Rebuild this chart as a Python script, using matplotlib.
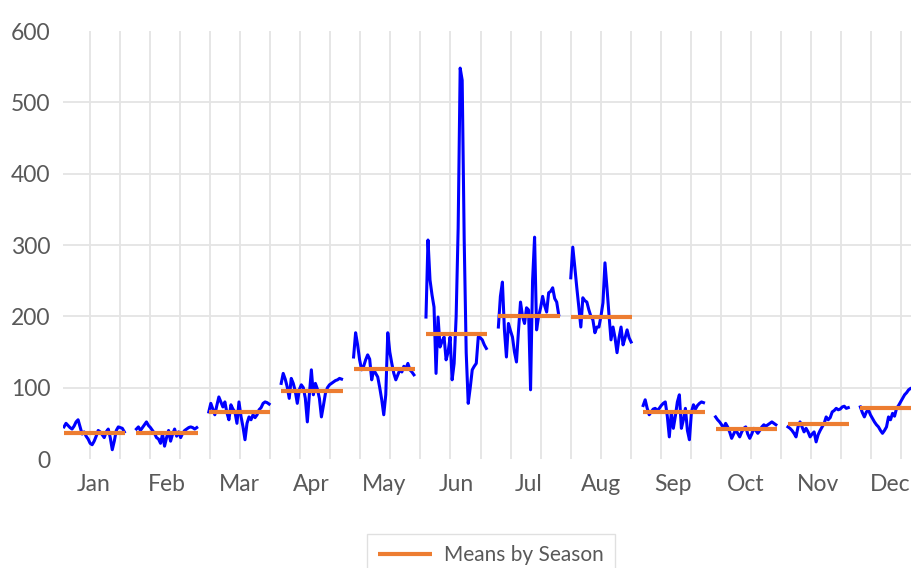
import numpy as np
import matplotlib
matplotlib.use("Agg")
import matplotlib.pyplot as plt

# ─────────────────────────────────────────────
# 数据（从图中读取的日值，每月 31 个点）
# ─────────────────────────────────────────────
months = ["Jan", "Feb", "Mar", "Apr", "May", "Jun",
          "Jul", "Aug", "Sep", "Oct", "Nov", "Dec"]

jan = [45, 50, 47, 44, 42, 46, 52, 55, 45, 35, 38, 32, 28, 22, 20, 25,
       32, 40, 38, 34, 30, 38, 42, 30, 13, 25, 40, 45, 44, 43, 38]
feb = [42, 45, 40, 44, 48, 52, 47, 44, 40, 36, 30, 28, 22, 35, 18, 30,
       40, 25, 35, 42, 32, 38, 30, 36, 40, 42, 44, 45, 44, 42, 44]
mar = [66, 78, 70, 62, 75, 87, 80, 73, 80, 65, 55, 76, 70, 66, 50, 80,
       60, 45, 27, 50, 59, 55, 62, 58, 62, 69, 72, 78, 80, 79, 77]
apr = [106, 120, 112, 101, 85, 113, 106, 95, 78, 97, 104, 100, 85, 52, 90, 125,
       90, 106, 98, 85, 59, 75, 92, 100, 104, 106, 108, 110, 111, 113, 112]
may = [143, 177, 160, 139, 125, 130, 139, 146, 140, 111, 125, 120, 115, 100, 83, 62,
       90, 177, 150, 134, 120, 111, 118, 125, 122, 130, 127, 134, 125, 122, 118]
jun = [199, 307, 251, 230, 213, 120, 199, 157, 165, 171, 139, 150, 171, 111, 134, 200,
       324, 548, 531, 307, 149, 78, 100, 125, 130, 134, 171, 170, 167, 160, 155]
jul = [185, 228, 248, 181, 143, 190, 180, 171, 150, 136, 180, 220, 200, 190, 212, 209,
       97, 250, 311, 181, 200, 212, 228, 215, 206, 233, 235, 240, 225, 220, 202]
aug = [254, 297, 269, 240, 213, 185, 226, 222, 220, 209, 200, 195, 177, 185, 185, 200,
       219, 275, 240, 202, 167, 185, 170, 149, 170, 185, 160, 170, 181, 170, 164]
sep = [75, 83, 71, 62, 66, 70, 71, 68, 71, 75, 78, 80, 60, 31, 66, 43,
       60, 80, 90, 43, 55, 71, 40, 27, 66, 76, 70, 75, 78, 80, 79]
oct_ = [59, 55, 52, 48, 43, 50, 45, 38, 29, 35, 41, 36, 31, 38, 43, 45,
        35, 29, 35, 43, 40, 36, 40, 45, 48, 46, 48, 50, 52, 50, 48]
nov = [45, 43, 40, 36, 31, 45, 52, 45, 38, 43, 38, 31, 35, 38, 24, 34,
       40, 45, 50, 59, 55, 58, 66, 68, 71, 69, 70, 73, 74, 71, 72]
dec = [73, 65, 59, 66, 69, 62, 57, 52, 48, 45, 40, 36, 40, 45, 59, 55,
       64, 60, 71, 75, 80, 85, 90, 93, 97, 99, 100, 100, 98, 96, 95]

season_means = [37, 37, 66, 95, 126, 175, 201, 199, 66, 42, 49, 71]

daily = [jan, feb, mar, apr, may, jun, jul, aug, sep, oct_, nov, dec]

SLOTS = 36  # 每月占用的类别槽位（含空白间隔）

# ─────────────────────────────────────────────
# 绘图
# ─────────────────────────────────────────────
plt.rcParams["font.family"] = ["Lato", "DejaVu Sans"]

fig = plt.figure(figsize=(9.12, 5.68), dpi=100)
ax = fig.add_axes([63 / 912, 1 - 459 / 568, 1 - 63 / 912, (459 - 31) / 568])

blue = "#0000FF"
orange = "#ED7D31"

for m, vals in enumerate(daily):
    x = m * SLOTS + np.arange(len(vals))
    ax.plot(x, vals, color=blue, linewidth=2.2, solid_joinstyle="round", zorder=3)
    ax.plot([x[0], x[-1] + 0.5], [season_means[m]] * 2, color=orange, linewidth=3.0,
            solid_capstyle="butt", zorder=4,
            label="Means by Season" if m == 0 else "_nolegend_")

ax.set_xlim(-0.5, -0.5 + (912 - 63) / 2.011)
ax.set_ylim(0, 600)

# 网格（0 和 600 处不画横线）
ax.set_yticks(np.arange(0, 601, 100))
for y in range(100, 600, 100):
    ax.axhline(y, color="#E4E4E4", linewidth=1.3, zorder=0)
for gx in np.arange(12.9, 425, 14.94):
    ax.axvline(gx, color="#E4E4E4", linewidth=1.3, zorder=0)

ax.set_xticks([m * SLOTS + 15 for m in range(12)])
ax.set_xticklabels(months)
ax.tick_params(axis="both", length=0, labelsize=16.5, labelcolor="#595959")
ax.tick_params(axis="y", pad=9)
ax.tick_params(axis="x", pad=11)
for s in ax.spines.values():
    s.set_visible(False)

leg = fig.legend(loc="upper center", bbox_to_anchor=(491 / 912, 1 - 524 / 568),
                 frameon=True, fancybox=False, fontsize=15, handlelength=2.6,
                 handletextpad=0.6, borderpad=0.5, labelcolor="#595959")
leg.get_frame().set_edgecolor("#D9D9D9")
leg.get_frame().set_linewidth(1.0)

plt.savefig("out.png", dpi=100)
